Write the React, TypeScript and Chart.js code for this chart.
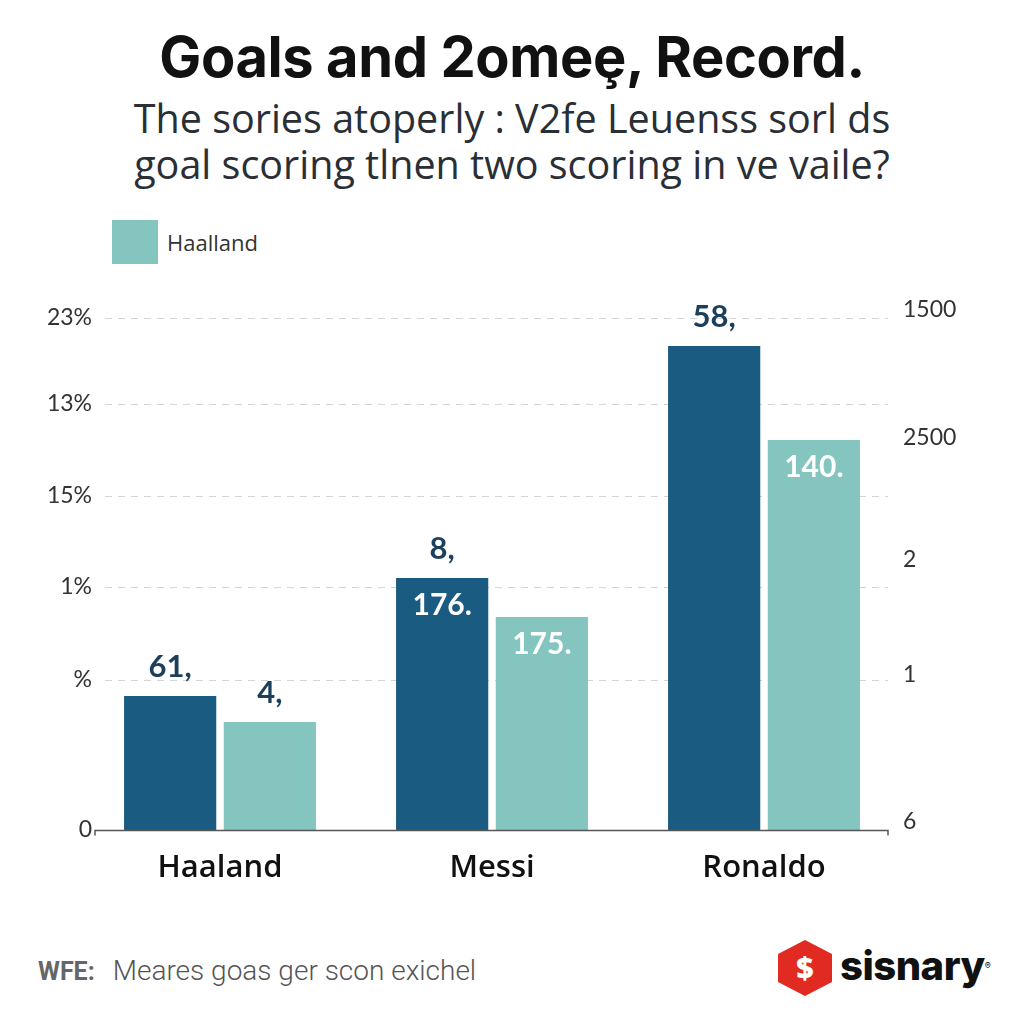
import React, { useEffect, useRef } from "react";
import { Chart, registerables } from "chart.js";

Chart.register(...registerables);

const categories = ["Haaland", "Messi", "Ronaldo"];
const darkValues = [134, 252, 484];
const lightValues = [108, 213, 390];
const darkLabelsAbove = ["61,", "8,", "58,"];
const darkLabelsInside = ["", "176.", ""];
const lightLabelsAbove = ["4,", "", ""];
const lightLabelsInside = ["", "175.", "140."];
const leftTickValues = [0, 150, 243, 334, 426, 512];
const leftTickLabels = ["0", "%", "1%", "15%", "13%", "23%"];
const rightTickValues = [8, 155, 270, 392, 520];
const rightTickLabels = ["6", "1", "2", "2500", "1500"];
const legendLabel = "Haalland";

const DARK = "#1a5b82";
const LIGHT = "#84c5bf";
const GRID_LEFT = 105;
const GRID_RIGHT = 888;
const BASE_LEFT = 95;
const LEFT_LABEL_X = 92;

const gridPlugin = {
  id: "customGrid",
  beforeDatasetsDraw(chart: any) {
    const ctx = chart.ctx;
    const y = chart.scales.y;
    ctx.save();
    ctx.strokeStyle = "#d4d4d4";
    ctx.lineWidth = 1.2;
    ctx.setLineDash([7, 6]);
    leftTickValues.forEach((v) => {
      if (v === 0) return;
      const py = Math.round(y.getPixelForValue(v)) + 0.5;
      ctx.beginPath();
      ctx.moveTo(GRID_LEFT, py);
      ctx.lineTo(GRID_RIGHT, py);
      ctx.stroke();
    });
    ctx.setLineDash([]);
    ctx.fillStyle = "#333";
    ctx.font = "23px Lato";
    ctx.textAlign = "right";
    ctx.textBaseline = "middle";
    leftTickValues.forEach((v, i) => {
      ctx.fillText(leftTickLabels[i], LEFT_LABEL_X, y.getPixelForValue(v));
    });
    ctx.restore();
  },
};

const labelPlugin = {
  id: "barLabels",
  afterDatasetsDraw(chart: any) {
    const ctx = chart.ctx;
    const sets = [
      { above: darkLabelsAbove, inside: darkLabelsInside },
      { above: lightLabelsAbove, inside: lightLabelsInside },
    ];
    ctx.save();
    ctx.textAlign = "center";
    ctx.textBaseline = "middle";
    sets.forEach((s, di) => {
      const meta = chart.getDatasetMeta(di);
      meta.data.forEach((bar: any, i: number) => {
        if (s.above[i]) {
          ctx.font = "bold 31px Lato";
          ctx.fillStyle = "#1c3f5c";
          ctx.fillText(s.above[i], bar.x, bar.y - 29);
        }
        if (s.inside[i]) {
          ctx.font = "bold 30px Lato";
          ctx.fillStyle = "#ffffff";
          ctx.fillText(s.inside[i], bar.x, bar.y + 27);
        }
      });
    });
    const bottom = Math.round(chart.scales.y.getPixelForValue(0)) + 0.5;
    ctx.strokeStyle = "#555";
    ctx.lineWidth = 1.5;
    ctx.beginPath();
    ctx.moveTo(BASE_LEFT, bottom + 5);
    ctx.lineTo(BASE_LEFT, bottom);
    ctx.lineTo(GRID_RIGHT, bottom);
    ctx.lineTo(GRID_RIGHT, bottom + 5);
    ctx.stroke();
    ctx.restore();
  },
};

export default function App() {
  const ref = useRef<HTMLCanvasElement>(null);

  useEffect(() => {
    if (!ref.current) return;
    const chart = new Chart(ref.current, {
      type: "bar",
      data: {
        labels: categories,
        datasets: [
          {
            label: "Goals",
            data: darkValues,
            backgroundColor: DARK,
            yAxisID: "y",
            barPercentage: 0.925,
            categoryPercentage: 0.733,
          },
          {
            label: legendLabel,
            data: lightValues,
            backgroundColor: LIGHT,
            yAxisID: "y",
            barPercentage: 0.925,
            categoryPercentage: 0.733,
          },
        ],
      },
      options: {
        responsive: false,
        animation: false,
        devicePixelRatio: 1,
        layout: { padding: { top: 30, left: 0, right: 0, bottom: 0 } },
        plugins: {
          legend: { display: false },
          title: { display: false },
          tooltip: { enabled: false },
        },
        scales: {
          x: {
            grid: { display: false },
            border: { display: false },
            ticks: {
              padding: 12,
              color: "#111",
              font: { family: "Open Sans", size: 31, weight: "600" },
            },
            afterFit: (s: any) => {
              s.height = 70;
            },
          },
          y: {
            position: "left",
            min: 0,
            max: 520,
            grid: { display: false, drawTicks: false },
            border: { display: false },
            afterBuildTicks: (s: any) => {
              s.ticks = leftTickValues.map((v) => ({ value: v }));
            },
            ticks: { display: false, autoSkip: false },
            afterFit: (s: any) => {
              s.width = 84;
            },
          },
          y1: {
            position: "right",
            min: 0,
            max: 520,
            grid: { display: false, drawTicks: false },
            border: { display: false },
            afterBuildTicks: (s: any) => {
              s.ticks = rightTickValues.map((v) => ({ value: v }));
            },
            ticks: {
              autoSkip: false,
              padding: 3,
              color: "#333",
              font: { family: "Lato", size: 23 },
              callback: (_v: any, i: number) => rightTickLabels[i],
            },
            afterFit: (s: any) => {
              s.width = 124;
            },
          },
        },
      } as any,
      plugins: [gridPlugin, labelPlugin],
    });
    return () => chart.destroy();
  }, []);

  return (
    <div
      style={{
        position: "absolute",
        left: 0,
        top: 0,
        width: 1024,
        height: 1024,
        background: "#fff",
        overflow: "hidden",
        fontFamily: "Open Sans, sans-serif",
      }}
    >
      <div
        style={{
          position: "absolute",
          top: 24,
          left: 0,
          width: 1024,
          textAlign: "center",
          fontFamily: "Inter",
          fontWeight: 700,
          fontSize: 56,
          lineHeight: "66px",
          color: "#111",
          letterSpacing: -0.4,
        }}
      >
        Goals and 2omeȩ, Record.
      </div>
      <div
        style={{
          position: "absolute",
          top: 95,
          left: 0,
          width: 1024,
          textAlign: "center",
          fontFamily: "Open Sans",
          fontWeight: 400,
          fontSize: 39.5,
          lineHeight: "46px",
          color: "#2a2f36",
        }}
      >
        <div>The sories atoperly : V2fe Leuenss sorl ds</div>
        <div>goal scoring tlnen two scoring in ve vaile?</div>
      </div>
      <div
        style={{
          position: "absolute",
          left: 112,
          top: 220,
          width: 46,
          height: 44,
          background: LIGHT,
        }}
      />
      <div
        style={{
          position: "absolute",
          left: 167,
          top: 226,
          fontFamily: "Open Sans",
          fontSize: 22,
          lineHeight: "32px",
          color: "#333",
        }}
      >
        {legendLabel}
      </div>
      <canvas
        ref={ref}
        width={1024}
        height={620}
        style={{ position: "absolute", left: 0, top: 280, width: 1024, height: 620 }}
      />
      <div
        style={{
          position: "absolute",
          left: 38,
          top: 953,
          fontFamily: "Roboto",
          fontSize: 28,
          lineHeight: "36px",
          color: "#555",
        }}
      >
        <span style={{ fontWeight: 700, color: "#666", fontSize: 25 }}>WFE:</span>
        <span style={{ marginLeft: 18, fontWeight: 300 }}>Meares goas ger scon exichel</span>
      </div>
      <div
        style={{
          position: "absolute",
          left: 778,
          top: 940,
          width: 54,
          height: 56,
          background: "#e12a22",
          clipPath: "polygon(50% 0%, 100% 25%, 100% 75%, 50% 100%, 0% 75%, 0% 25%)",
          color: "#fff",
          fontWeight: 900,
          fontSize: 30,
          lineHeight: "56px",
          textAlign: "center",
        }}
      >
        $
      </div>
      <div
        style={{
          position: "absolute",
          left: 840,
          top: 942,
          fontFamily: "Inter",
          fontWeight: 800,
          fontSize: 40,
          lineHeight: "48px",
          color: "#111",
          letterSpacing: -0.5,
        }}
      >
        sisnary<span style={{ fontSize: 9, verticalAlign: "top", fontWeight: 400 }}>®</span>
      </div>
    </div>
  );
}
